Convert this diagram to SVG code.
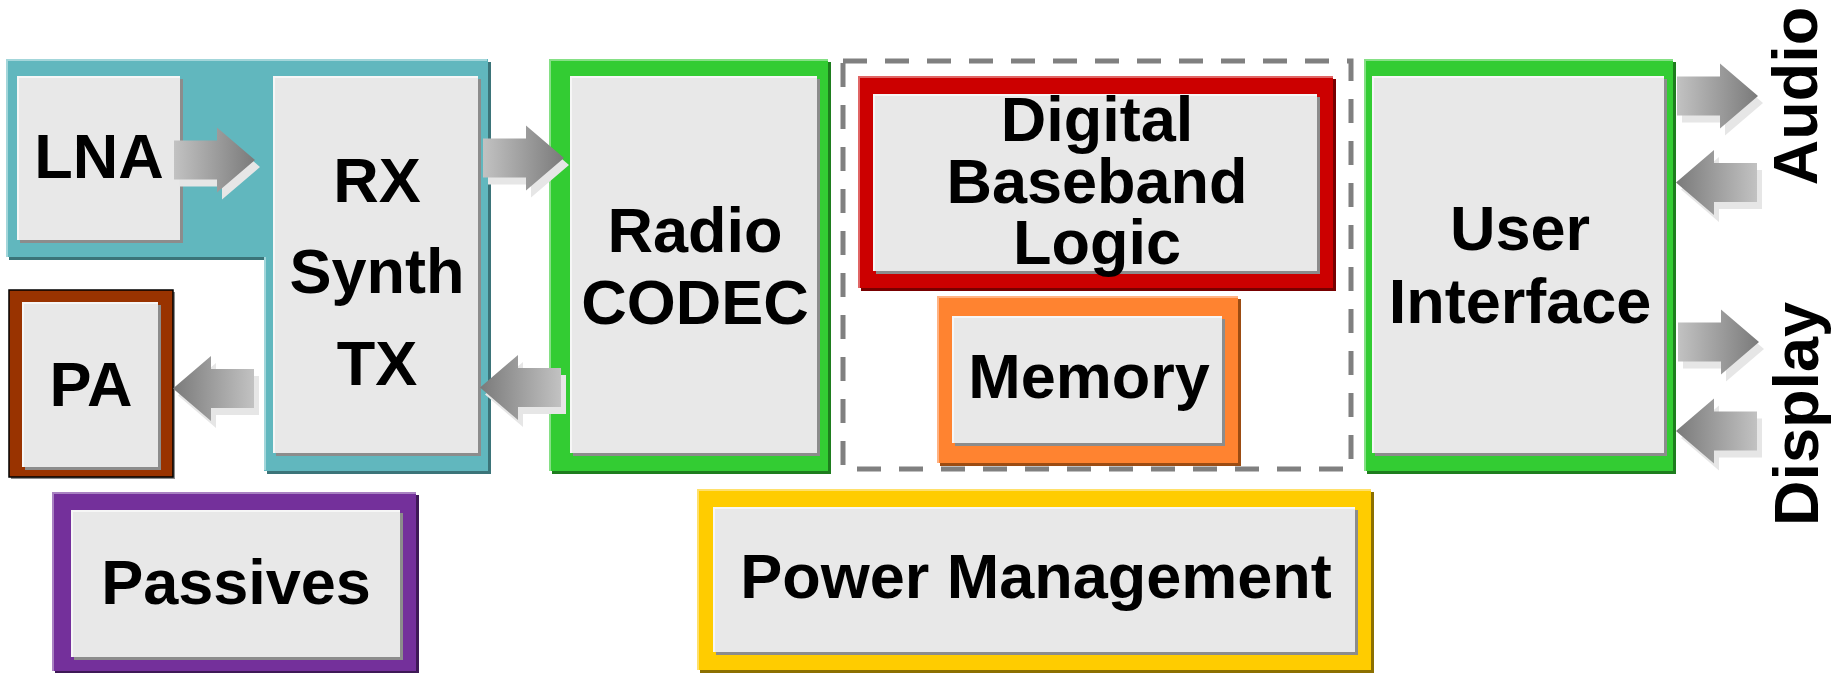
<svg xmlns="http://www.w3.org/2000/svg" width="1840" height="673" viewBox="0 0 1840 673">
<style>
text{font-family:"Liberation Sans",Arial,sans-serif;font-weight:bold;font-size:63px;fill:#000;text-anchor:middle}
.in{fill:#e8e8e8}.insh{fill:#8c8c8c}.inhl{fill:none;stroke:#f6f6f6;stroke-width:2}
.teal{fill:#61b7be}.tealsh{fill:#3b7479}.tealhl{fill:none;stroke:#a3d6da;stroke-width:2}
.grn{fill:#33cc33}.grnsh{fill:#1e7d1e}.grnhl{fill:none;stroke:#85e085;stroke-width:2}
.red{fill:#cc0000}.redsh{fill:#780000}.redhl{fill:none;stroke:#e06666;stroke-width:2}
.org{fill:#ff8330}.orgsh{fill:#9c4c12}.orghl{fill:none;stroke:#ffb282;stroke-width:2}
.yel{fill:#ffcc00}.yelsh{fill:#8c7000}.yelhl{fill:none;stroke:#ffe06a;stroke-width:2}
.pur{fill:#74309b}.pursh{fill:#3e1956}.purhl{fill:none;stroke:#a982c2;stroke-width:2}
.brn{fill:#993300;stroke:#000;stroke-width:1.5}
.dash{fill:none;stroke:#808080;stroke-width:5;stroke-dasharray:24 18}
.ash{fill:#e6e6e6}.ar{fill:url(#ag)}
</style>
<defs>
<linearGradient id="ag" x1="0" y1="0" x2="1" y2="0">
<stop offset="0" stop-color="#c2c2c2"/><stop offset="1" stop-color="#7a7a7a"/>
</linearGradient>
<path id="arr" d="M0,-19.5 H43 V-32.5 L81,0 L43,32.5 V19.5 H0 Z"/>
</defs>

<g id="rf-group">
<polygon class="tealsh" points="9,62 491,62 491,474 267,474 267,260 9,260"/>
<polygon class="teal" points="6,59 488,59 488,471 264,471 264,257 6,257"/>
<polyline class="tealhl" points="7,257 7,60 487,60"/>
<line class="tealhl" x1="265" y1="257" x2="265" y2="470"/>
</g>

<g id="lna">
<rect class="insh" x="20" y="79" width="163" height="164"/>
<rect class="in" x="17" y="76" width="163" height="164"/>
<polyline class="inhl" points="18,240 18,77 180,77"/>
<text x="99" y="178">LNA</text>
</g>

<g id="rx-synth-tx">
<rect class="insh" x="276" y="79" width="205" height="377"/>
<rect class="in" x="273" y="76" width="205" height="377"/>
<polyline class="inhl" points="274,453 274,77 478,77"/>
<text x="377" y="202">RX</text>
<text x="377" y="293">Synth</text>
<text x="377" y="385">TX</text>
</g>

<g id="pa">
<rect x="11" y="292" width="164" height="187" fill="#8c8c8c"/>
<rect class="brn" x="9" y="290" width="164" height="187"/>
<rect class="insh" x="25" y="305" width="136" height="165"/>
<rect class="in" x="22" y="302" width="136" height="165"/>
<polyline class="inhl" points="23,467 23,303 158,303"/>
<text x="91" y="406">PA</text>
</g>

<g id="passives">
<rect class="pursh" x="55" y="495" width="364" height="179"/>
<rect class="pur" x="52" y="492" width="364" height="179"/>
<polyline class="purhl" points="53,671 53,493 416,493"/>
<rect class="insh" x="74" y="513" width="329" height="147"/>
<rect class="in" x="71" y="510" width="329" height="147"/>
<polyline class="inhl" points="72,657 72,511 400,511"/>
<text x="236" y="604">Passives</text>
</g>

<g id="radio-codec">
<rect class="grnsh" x="552" y="62" width="279" height="412"/>
<rect class="grn" x="549" y="59" width="279" height="412"/>
<polyline class="grnhl" points="550,471 550,60 828,60"/>
<rect class="insh" x="573" y="79" width="247" height="377"/>
<rect class="in" x="570" y="76" width="247" height="377"/>
<polyline class="inhl" points="571,453 571,77 817,77"/>
<text x="695" y="252">Radio</text>
<text x="695" y="324">CODEC</text>
</g>

<g id="digital-group">
<rect class="dash" x="843" y="61" width="508" height="408"/>
</g>

<g id="digital-baseband">
<rect class="redsh" x="861" y="79" width="475" height="212"/>
<rect class="red" x="858" y="76" width="475" height="212"/>
<polyline class="redhl" points="859,288 859,77 1333,77"/>
<rect class="insh" x="876" y="97" width="444" height="177"/>
<rect class="in" x="873" y="94" width="444" height="177"/>
<polyline class="inhl" points="874,271 874,95 1317,95"/>
<text x="1097" y="141">Digital</text>
<text x="1097" y="203">Baseband</text>
<text x="1097" y="264">Logic</text>
</g>

<g id="memory">
<rect class="orgsh" x="940" y="299" width="301" height="167"/>
<rect class="org" x="937" y="296" width="301" height="167"/>
<polyline class="orghl" points="938,463 938,297 1238,297"/>
<rect class="insh" x="955" y="319" width="270" height="127"/>
<rect class="in" x="952" y="316" width="270" height="127"/>
<polyline class="inhl" points="953,443 953,317 1222,317"/>
<text x="1089" y="398">Memory</text>
</g>

<g id="user-interface">
<rect class="grnsh" x="1367" y="62" width="309" height="412"/>
<rect class="grn" x="1364" y="59" width="309" height="412"/>
<polyline class="grnhl" points="1365,471 1365,60 1673,60"/>
<rect class="insh" x="1375" y="79" width="292" height="377"/>
<rect class="in" x="1372" y="76" width="292" height="377"/>
<polyline class="inhl" points="1373,453 1373,77 1664,77"/>
<text x="1520" y="250">User</text>
<text x="1520" y="323">Interface</text>
</g>

<g id="power-management">
<rect class="yelsh" x="700" y="492" width="674" height="181"/>
<rect class="yel" x="697" y="489" width="674" height="181"/>
<polyline class="yelhl" points="698,670 698,490 1371,490"/>
<rect class="insh" x="716" y="510" width="642" height="145"/>
<rect class="in" x="713" y="507" width="642" height="145"/>
<polyline class="inhl" points="714,652 714,508 1355,508"/>
<text x="1036" y="598">Power Management</text>
</g>

<g id="labels">
<text transform="translate(1817,96) rotate(-90)">Audio</text>
<text transform="translate(1818,414) rotate(-90)">Display</text>
</g>

<g id="connectors">
<use href="#arr" class="ash" transform="translate(179,167)"/>
<use href="#arr" class="ar" transform="translate(174,160)"/>
<use href="#arr" class="ash" transform="translate(488,165)"/>
<use href="#arr" class="ar" transform="translate(483,158)"/>
<use href="#arr" class="ash" transform="translate(259,395.5) scale(-1,1)"/>
<use href="#arr" class="ar" transform="translate(254,388.5) scale(-1,1)"/>
<use href="#arr" class="ash" transform="translate(566,394.5) scale(-1,1)"/>
<use href="#arr" class="ar" transform="translate(561,387.5) scale(-1,1)"/>
<use href="#arr" class="ash" transform="translate(1682,103)"/>
<use href="#arr" class="ar" transform="translate(1677,96)"/>
<use href="#arr" class="ash" transform="translate(1762,189.5) scale(-1,1)"/>
<use href="#arr" class="ar" transform="translate(1757,182.5) scale(-1,1)"/>
<use href="#arr" class="ash" transform="translate(1683,349)"/>
<use href="#arr" class="ar" transform="translate(1678,342)"/>
<use href="#arr" class="ash" transform="translate(1762,438) scale(-1,1)"/>
<use href="#arr" class="ar" transform="translate(1757,431) scale(-1,1)"/>
</g>
</svg>
